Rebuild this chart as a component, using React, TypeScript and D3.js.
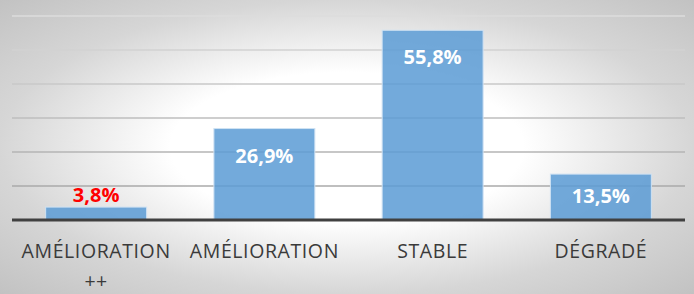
import React from 'react';
import * as d3 from 'd3';

const categories = ['AMÉLIORATION ++', 'AMÉLIORATION', 'STABLE', 'DÉGRADÉ'];
const values = [3.8, 26.9, 55.8, 13.5];
const yTicks = [0, 10, 20, 30, 40, 50, 60];

const W = 694;
const H = 294;

// greedy wrap by character count, good enough for these short labels
function wrap(label: string, maxChars = 13): string[] {
  const lines: string[] = [];
  let cur = '';
  label.split(' ').forEach((w) => {
    const next = cur ? cur + ' ' + w : w;
    if (next.length > maxChars && cur) {
      lines.push(cur);
      cur = w;
    } else cur = next;
  });
  if (cur) lines.push(cur);
  return lines;
}

export default function App() {
  const margin = { top: 16, right: 9, bottom: 74, left: 12 };
  const x = d3.scaleBand<string>()
    .domain(categories)
    .range([margin.left, W - margin.right])
    .paddingInner(0.4)
    .paddingOuter(0.2);
  const y = d3.scaleLinear().domain([0, 60]).range([H - margin.bottom, margin.top]);
  const gridColor = d3.scaleLinear<string>().domain([60, 0]).range(['#dcdcdc', '#a0a0a0']);
  const fmt = (v: number) => d3.format('.1f')(v).replace('.', ',') + '%';
  const font = '"Open Sans", "Noto Sans", sans-serif';

  return (
    <svg width={W} height={H} style={{ position: 'absolute', left: 0, top: 0 }}>
      <defs>
        <radialGradient id="bg" cx="0.5" cy="0.5" r="0.707">
          <stop offset="0" stopColor="#ffffff" />
          <stop offset="0.36" stopColor="#ffffff" />
          <stop offset="0.707" stopColor="#d6d6d6" />
          <stop offset="1" stopColor="#c2c2c2" />
        </radialGradient>
      </defs>
      <rect width={W} height={H} fill="url(#bg)" />

      {/* gridlines */}
      {yTicks.filter((t) => t > 0).map((t) => (
        <line key={t} x1={margin.left} x2={W - margin.right} y1={y(t)} y2={y(t)}
          stroke={gridColor(t)} strokeWidth={1.5} />
      ))}

      {/* bars */}
      {values.map((v, i) => (
        <rect key={categories[i]} x={x(categories[i])} y={y(v)} width={x.bandwidth()}
          height={y(0) - y(v)} fill="#5b9bd5" fillOpacity={0.85}
          stroke="#cfe2f3" strokeWidth={1} />
      ))}

      {/* axis */}
      <line x1={margin.left} x2={W - margin.right} y1={y(0)} y2={y(0)} stroke="#404040" strokeWidth={3} />

      {/* value labels */}
      {values.map((v, i) => {
        const cx = (x(categories[i]) as number) + x.bandwidth() / 2;
        const inside = y(0) - y(v) > 30;
        const yy = inside ? Math.min(y(v) + 34, y(0) - 17) : y(v) - 5.5;
        return (
          <text key={'v' + i} x={cx} y={yy} textAnchor="middle" fontFamily={font}
            fontWeight="bold" fontSize={20} fill={inside ? '#ffffff' : '#ff0000'}>
            {fmt(v)}
          </text>
        );
      })}

      {/* category labels */}
      {categories.map((c) => {
        const cx = (x(c) as number) + x.bandwidth() / 2;
        return (
          <text key={'c' + c} x={cx} y={258} textAnchor="middle" fontFamily={font}
            fontSize={19.5} fill="#3a3a3a" letterSpacing={0.6}>
            {wrap(c).map((line, j) => (
              <tspan key={j} x={cx} dy={j === 0 ? 0 : 30}>{line}</tspan>
            ))}
          </text>
        );
      })}
    </svg>
  );
}
